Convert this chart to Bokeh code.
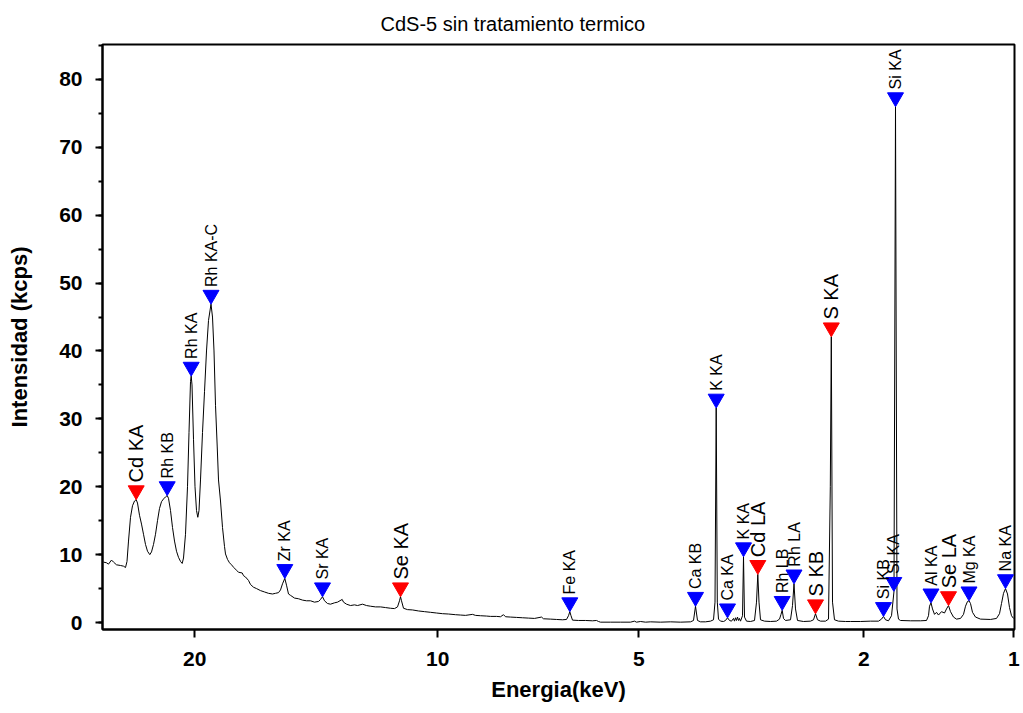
import math
from bokeh.plotting import figure
from bokeh.models import Range1d, FixedTicker, SingleIntervalTicker, ColumnDataSource
from bokeh.core.properties import value
from bokeh.embed import file_html
from bokeh.resources import INLINE

# Spectrum (x = scan position along the energy axis, y = intensity in kcps)
posicion = [0.30, 0.60, 0.80, 1.10, 1.30, 1.60, 2.00, 2.30, 2.50, 2.65, 2.80, 3.00, 3.20, 3.40, 3.57,
            3.70, 3.90, 4.10, 4.30, 4.50, 4.70, 4.93, 5.10, 5.30, 5.50, 5.70, 5.90, 6.10, 6.30, 6.50,
            6.67, 6.80, 7.00, 7.20, 7.40, 7.60, 7.80, 8.00, 8.17, 8.30, 8.50, 8.70, 8.85, 9.00, 9.07,
            9.15, 9.30, 9.45, 9.60, 9.73, 9.85, 10.00, 10.20, 10.40, 10.60, 10.80, 11.05, 11.20, 11.35,
            11.50, 11.67, 11.80, 12.00, 12.20, 12.40, 12.50, 12.70, 12.90, 13.10, 13.33, 13.60, 13.80,
            14.17, 14.30, 14.50, 14.80, 15.00, 15.30, 15.60, 16.00, 16.40, 16.80, 17.20, 17.50, 17.80,
            18.00, 18.20, 18.43, 18.60, 18.80, 19.00, 19.40, 19.80, 20.20, 20.60, 21.00, 21.40, 21.80,
            22.00, 22.20, 22.40, 22.70, 23.00, 23.40, 23.70, 24.17, 24.30, 24.60, 25.00, 25.40, 25.70,
            26.20, 26.60, 27.00, 27.50, 28.00, 28.50, 29.00, 29.40, 29.70, 29.90, 30.00, 30.10, 30.30,
            30.70, 31.20, 31.80, 32.40, 33.00, 33.60, 34.20, 34.80, 35.50, 36.00, 36.50, 37.20, 37.50,
            38.00, 38.60, 39.00, 39.60, 40.00, 40.30, 40.50, 41.00, 41.60, 42.20, 42.80, 43.40, 44.10,
            44.30, 45.00, 45.60, 46.20, 46.60, 46.80, 46.93, 47.05, 47.20, 47.80, 48.50, 49.20, 49.60,
            49.80, 50.00, 51.00, 52.00, 53.00, 53.40, 53.60, 54.00, 54.50, 55.00, 56.00, 57.00, 58.00,
            59.00, 59.30, 59.50, 59.70, 60.00, 60.50, 61.00, 61.30, 61.45, 61.57, 61.68, 61.80, 62.00,
            62.30, 62.50, 62.70, 62.90, 63.10, 63.30, 63.40, 63.50, 63.60, 63.70, 63.80, 63.90, 64.00,
            64.20, 64.30, 64.40, 64.60, 65.00, 65.40, 65.60, 65.73, 65.85, 66.00, 66.40, 67.00, 67.60,
            67.90, 68.05, 68.17, 68.30, 68.50, 69.00, 69.20, 69.35, 69.50, 69.70, 70.30, 71.00, 71.30,
            71.50, 71.70, 72.00, 72.50, 72.80, 72.98, 73.08, 73.20, 73.40, 73.80, 74.50, 75.00, 76.00,
            77.00, 77.80, 78.10, 78.30, 78.50, 78.80, 79.10, 79.35, 79.50, 79.65, 79.80, 80.00, 81.00,
            82.00, 82.60, 82.80, 82.90, 83.05, 83.20, 83.40, 83.60, 83.80, 84.10, 84.40, 84.60, 84.80,
            85.00, 85.30, 85.60, 86.00, 86.30, 86.50, 86.70, 86.85, 87.00, 87.20, 87.50, 88.00, 89.00,
            89.60, 89.90, 90.10, 90.30, 90.50, 90.70, 90.90, 91.10, 91.30]
intensidad = [8.9, 8.8, 8.6, 9.2, 8.9, 8.5, 8.4, 8.3, 8.1, 9.0, 12.0, 15.5, 17.2, 17.9, 18.1,
              17.6, 15.8, 14.5, 13.0, 11.5, 10.5, 10.0, 10.4, 11.5, 13.0, 15.0, 16.8, 17.8, 18.2, 18.5,
              18.7, 18.3, 16.5, 14.0, 12.0, 10.5, 9.6, 9.0, 8.7, 9.5, 13.0, 20.0, 28.0, 35.5, 36.3,
              35.0, 27.0, 20.0, 16.5, 15.5, 16.5, 21.0, 28.0, 34.0, 40.0, 44.5, 46.9, 45.0, 40.0,
              32.0, 26.0, 21.0, 17.9, 14.0, 11.2, 10.1, 9.3, 8.8, 8.5, 8.1, 7.7, 7.4,
              7.3, 6.9, 6.7, 6.2, 5.6, 5.2, 5.0, 4.7, 4.5, 4.3, 4.2, 4.3, 4.4,
              4.8, 5.7, 6.5, 5.5, 4.2, 4.0, 3.6, 3.5, 3.3, 3.2, 3.2, 3.0, 3.1,
              3.4, 3.8, 3.2, 2.8, 2.7, 2.9, 3.0, 3.4, 3.0, 2.7, 2.5, 2.6, 2.5,
              2.7, 2.5, 2.4, 2.3, 2.3, 2.2, 2.1, 2.05, 2.3, 3.2, 3.8, 3.2, 2.1,
              1.9, 1.85, 1.7, 1.6, 1.5, 1.4, 1.3, 1.25, 1.15, 1.1, 1.05, 1.2, 1.05,
              1.0, 0.95, 0.9, 0.9, 0.85, 1.15, 0.85, 0.8, 0.75, 0.7, 0.65, 0.6, 0.8,
              0.55, 0.5, 0.45, 0.4, 0.45, 1.0, 1.6, 1.0, 0.35, 0.3, 0.3, 0.25, 0.3,
              0.15, 0.05, 0.05, 0.05, 0.05, 0.2, 0.05, 0.15, 0.05, 0.1, 0.05, 0.1, 0.05,
              0.1, 0.3, 2.4, 0.3, 0.1, 0.1, 0.2, 0.4, 3.0, 31.6, 3.0, 0.5, 0.2,
              0.15, 0.3, 0.7, 0.3, 0.2, 0.6, 0.2, 0.7, 0.3, 0.8, 0.3, 0.6, 0.2,
              1.0, 9.7, 0.8, 0.2, 0.15, 0.3, 3.0, 7.1, 3.0, 0.4, 0.2, 0.15, 0.2,
              0.5, 1.2, 1.8, 0.6, 0.3, 0.4, 2.5, 5.7, 2.0, 0.3, 0.15, 0.2, 0.4,
              1.3, 0.4, 0.2, 0.2, 0.5, 20.0, 42.1, 3.0, 0.4, 0.2, 0.15, 0.15, 0.15,
              0.2, 0.2, 0.5, 0.9, 0.4, 0.25, 1.0, 4.6, 76.0, 2.0, 0.5, 0.3, 0.25,
              0.25, 0.3, 1.0, 2.4, 2.9, 2.0, 1.2, 1.5, 1.1, 1.6, 1.4, 2.0, 2.5,
              1.6, 0.8, 0.5, 0.6, 1.2, 2.4, 3.1, 3.2, 2.8, 1.5, 0.8, 0.5, 0.45,
              0.6, 1.3, 2.8, 4.3, 5.0, 4.2, 2.2, 1.0, 0.6]

# Identified lines
linea_nombre = ["Cd KA", "Rh KB", "Rh KA", "Rh KA-C", "Zr KA", "Sr KA", "Se KA", "Fe KA",
                "Ca KB", "K KA", "Ca KA", "K KA", "Cd LA", "Rh LB", "Rh LA", "S KB", "S KA",
                "Si KB", "Si KA", "Si KA", "Al KA", "Se LA", "Mg KA", "Na KA"]
linea_pos = [3.57, 6.67, 9.07, 11.05, 18.43, 22.20, 30.00, 46.93,
             59.50, 61.57, 62.70, 64.30, 65.73, 68.17, 69.35, 71.50, 73.08,
             78.30, 79.50, 79.33, 83.05, 84.80, 86.85, 90.50]
linea_int = [18.1, 18.7, 36.3, 46.9, 6.5, 3.8, 3.8, 1.6,
             2.4, 31.6, 0.7, 9.7, 7.1, 1.8, 5.7, 1.3, 42.1,
             0.9, 76.0, 4.6, 2.9, 2.5, 3.2, 5.0]
linea_muestra = [True, False, False, False, False, False, True, False,
                 False, False, False, False, True, False, False, True, True,
                 False, False, False, False, True, False, False]

tick_pos = [9.43, 33.73, 53.83, 76.33, 91.33]
tick_labels = ["20", "10", "5", "2", "1"]

FONT = "Liberation Sans"
y_lo, y_hi = -1.03, 85.15
px_per_unit = 586.0 / (y_hi - y_lo)

p = figure(width=1023, height=713, output_backend="svg", toolbar_location=None,
           x_range=Range1d(0.2, 91.4), y_range=Range1d(y_lo, y_hi),
           min_border_left=102, min_border_right=9, min_border_top=43, min_border_bottom=84,
           title="CdS-5 sin tratamiento termico")

p.title.align = "left"
p.title.text_font = FONT
p.title.text_font_size = "20px"
p.title.text_font_style = "normal"
p.title.text_color = "black"
p.title.offset = 278
p.title.standoff = 20

p.grid.visible = False
p.outline_line_color = "black"
p.outline_line_width = 2
p.background_fill_color = "white"
p.border_fill_color = "white"

p.line(posicion, intensidad, line_color="black", line_width=1)

marker_dy = 9.2 / px_per_unit
src = ColumnDataSource(dict(
    x=linea_pos,
    y=[v + marker_dy for v in linea_int],
    name=linea_nombre,
    color=["#ff0000" if m else "#0000ff" for m in linea_muestra],
    fs=["20px" if m else "16px" for m in linea_muestra],
))
p.scatter(x="x", y="y", source=src, marker="inverted_triangle", size=16,
          fill_color="color", line_color="color")
p.text(x="x", y="y", text="name", source=src, angle=math.pi / 2, text_align="left",
       text_baseline="middle", text_font=value(FONT), text_font_size="fs",
       text_color="black", y_offset=-8)

xa = p.xaxis[0]
xa.ticker = FixedTicker(ticks=tick_pos)
xa.major_label_overrides = dict(zip(tick_pos, tick_labels))
xa.axis_label = "Energia(keV)"
xa.minor_tick_line_color = None
xa.major_tick_out = 8
xa.major_tick_in = 0
xa.major_label_standoff = 14
xa.axis_label_standoff = 8

ya = p.yaxis[0]
ya.ticker = SingleIntervalTicker(interval=10, num_minor_ticks=2)
ya.axis_label = "Intensidad (kcps)"
ya.major_tick_out = 7
ya.major_tick_in = 0
ya.minor_tick_out = 4
ya.minor_tick_in = 0
ya.major_label_standoff = 13
ya.axis_label_standoff = 24

for ax in (xa, ya):
    ax.axis_line_width = 2
    ax.major_tick_line_width = 2
    ax.minor_tick_line_width = 2
    ax.axis_line_color = "black"
    ax.major_label_text_font = FONT
    ax.major_label_text_font_style = "bold"
    ax.major_label_text_font_size = "21px"
    ax.major_label_text_color = "black"
    ax.axis_label_text_font = FONT
    ax.axis_label_text_font_style = "bold"
    ax.axis_label_text_font_size = "22px"
    ax.axis_label_text_color = "black"

open("out.html", "w").write(file_html(p, INLINE))
